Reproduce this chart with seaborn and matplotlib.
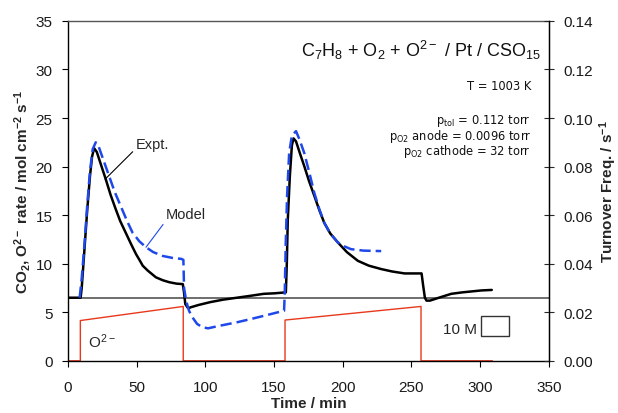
import matplotlib
matplotlib.use("Agg")
import matplotlib.pyplot as plt
import seaborn as sns
import pandas as pd
from matplotlib.patches import Rectangle

# ---------------- data ----------------
expt_t = [0, 9.2, 10, 12, 14, 16, 17.5, 19, 21, 24, 27.5, 31, 34.8, 38, 42, 46, 49.5, 52, 54.4,
          58, 64, 69, 73.6, 79, 83.6, 84.5, 85.4, 87, 88, 89, 95, 103.7, 113, 123, 133, 142.5,
          150, 158.6, 159.3, 160, 161.5, 163, 164.2, 166, 169, 172, 175.5, 179.3, 183, 186.6,
          191, 196.4, 203, 211, 219, 228, 236, 245, 252, 257.4, 258.5, 259.8, 261, 263.5, 270,
          279, 287, 294, 301, 308.5]
expt_v = [6.5, 6.5, 7.5, 11.5, 15.5, 19.0, 21.0, 21.9, 21.5, 20.2, 18.7, 17.1, 15.6, 14.4, 13.2,
          12.0, 11.0, 10.4, 9.8, 9.3, 8.6, 8.3, 8.1, 7.95, 7.9, 7.0, 5.85, 5.5, 5.4, 5.5, 5.75,
          6.05, 6.3, 6.5, 6.7, 6.9, 6.95, 7.05, 10.0, 14.5, 19.0, 22.2, 22.9, 22.6, 21.3, 20.05,
          18.5, 17.0, 15.5, 14.2, 13.1, 12.2, 11.2, 10.3, 9.8, 9.45, 9.2, 9.0, 9.0, 9.0, 7.8,
          6.5, 6.2, 6.2, 6.5, 6.9, 7.05, 7.15, 7.25, 7.3]

model_t = [8.5, 10, 12, 14, 16, 18, 20.2, 22, 25, 30, 34, 38.5, 43, 47, 52, 56.8, 62, 69, 76,
           82.4, 84, 84.5, 86, 88, 90, 94, 98, 102, 110, 123, 133, 143, 150, 157.3, 157.8,
           158.5, 159.5, 161, 163, 166, 168.5, 172, 176, 179.3, 183, 186.6, 191, 196.4, 201,
           206, 215, 228]
model_v = [6.5, 8.5, 12.0, 16.0, 19.5, 21.8, 22.5, 22.2, 21.0, 19.0, 17.4, 15.9, 14.4, 13.2,
           12.3, 11.7, 11.2, 10.8, 10.6, 10.5, 10.4, 7.5, 6.2, 5.2, 4.6, 3.8, 3.45, 3.35, 3.6,
           3.97, 4.3, 4.65, 4.9, 5.16, 7.0, 12.0, 17.0, 21.4, 23.2, 23.65, 22.8, 21.4, 19.2,
           17.3, 15.6, 14.2, 13.1, 12.2, 11.8, 11.5, 11.35, 11.3]

o2_t = [0, 9.0, 9.0, 83.9, 83.9, 158, 158, 257, 257, 309]
o2_v = [0, 0, 4.15, 5.6, 0, 0, 4.2, 5.6, 0, 0]

baseline_v = 6.5

x_ticks = [0, 50, 100, 150, 200, 250, 300, 350]
y_ticks = [0, 5, 10, 15, 20, 25, 30, 35]
y2_ticks = [0.00, 0.02, 0.04, 0.06, 0.08, 0.10, 0.12, 0.14]

title_txt = r'C$_7$H$_8$ + O$_2$ + O$^{2−}$ / Pt / CSO$_{15}$'
cond_lines = [r'p$_{tol}$ = 0.112 torr',
              r'p$_{O2}$ anode = 0.0096 torr',
              r'p$_{O2}$ cathode = 32 torr']
ylabel_txt = r'CO$_2$, O$^{2−}$ rate / mol cm$^{−2}$ s$^{−1}$'
y2label_txt = r'Turnover Freq. / s$^{−1}$'

# ---------------- style ----------------
sns.set_style("ticks")
plt.rcParams['font.family'] = ['Liberation Sans', 'DejaVu Sans']
plt.rcParams['mathtext.default'] = 'regular'

fig = plt.figure(figsize=(6.18, 4.14), dpi=100)
ax = fig.add_axes([0.110, 0.126, 0.778, 0.821])

df_e = pd.DataFrame({'t': expt_t, 'v': expt_v})
df_m = pd.DataFrame({'t': model_t, 'v': model_v})
df_o = pd.DataFrame({'t': o2_t, 'v': o2_v})

ax.axhline(baseline_v, color='#6e6e6e', lw=1.4, zorder=1)
sns.lineplot(data=df_o, x='t', y='v', ax=ax, sort=False, estimator=None,
             color='#E8381C', lw=1.0, zorder=2)
sns.lineplot(data=df_e, x='t', y='v', ax=ax, sort=False, estimator=None,
             color='black', lw=1.8, zorder=3)
sns.lineplot(data=df_m, x='t', y='v', ax=ax, sort=False, estimator=None,
             color='#1F48EA', lw=1.8, zorder=4)
ax.lines[-1].set_dashes([4.5, 2.0])

ax.set_xlim(0, 350)
ax.set_ylim(0, 35)
ax.set_xticks(x_ticks)
ax.set_yticks(y_ticks)
ax.tick_params(axis='x', labelsize=11, direction='out', length=4, width=0.8, pad=9.5,
               color='black', labelcolor='#1a1a1a')
ax.tick_params(axis='y', labelsize=11, direction='out', length=4.5, width=0.8, pad=6.5,
               color='black', labelcolor='#1a1a1a')
ax.set_xlabel('Time / min', fontsize=11, fontweight='bold', labelpad=2)
ax.set_ylabel(ylabel_txt, fontsize=11, fontweight='bold', labelpad=2)
for s in ax.spines.values():
    s.set_color('black')
    s.set_linewidth(1.0)
ax.spines['top'].set_color('#555555')

ax2 = ax.twinx()
ax2.set_ylim(0, 0.14)
ax2.set_yticks(y2_ticks)
ax2.set_yticklabels([f'{v:.2f}' for v in y2_ticks])
ax2.tick_params(axis='y', labelsize=11, direction='inout', length=7, width=0.8, pad=7,
                labelcolor='#1a1a1a')
ax2.set_ylabel(y2label_txt, fontsize=11, fontweight='bold', labelpad=3)
for s in ax2.spines.values():
    s.set_visible(False)
ax2.spines['right'].set_visible(True)
ax2.spines['right'].set_color('black')

# ---------------- annotations ----------------
ax.text(0.983, 0.915, title_txt, transform=ax.transAxes, ha='right', va='center',
        fontsize=13, color='#111111')
ax.text(0.963, 0.811, 'T = 1003 K', transform=ax.transAxes, ha='right', va='center',
        fontsize=8.3, family='DejaVu Sans', color='#111111')
for i, line in enumerate(cond_lines):
    ax.text(0.963, 0.708 - i * 0.045, line, transform=ax.transAxes, ha='right', va='center',
            fontsize=8.3, family='DejaVu Sans', color='#111111')

ax.annotate('Expt.', xy=(27, 18.7), xytext=(49.5, 22.3), fontsize=10.5, ha='left', va='center',
            arrowprops=dict(arrowstyle='-', color='black', lw=0.8, shrinkA=0, shrinkB=0,
                            relpos=(0, 0.2)))
ax.annotate('Model', xy=(56.8, 11.7), xytext=(71, 15.1), fontsize=10.5, ha='left', va='center',
            arrowprops=dict(arrowstyle='-', color='#1F48EA', lw=0.8, shrinkA=0, shrinkB=0,
                            relpos=(0, 0)))
ax.text(14.5, 2.05, r'O$^{2−}$', fontsize=11, ha='left', va='center')
ax.text(297.5, 3.3, '10 M', fontsize=11, ha='right', va='center')
ax.add_patch(Rectangle((300.3, 2.57), 20.5, 2.05, fill=False, edgecolor='#333333', lw=1.0))

fig.savefig('out.png', dpi=100)
